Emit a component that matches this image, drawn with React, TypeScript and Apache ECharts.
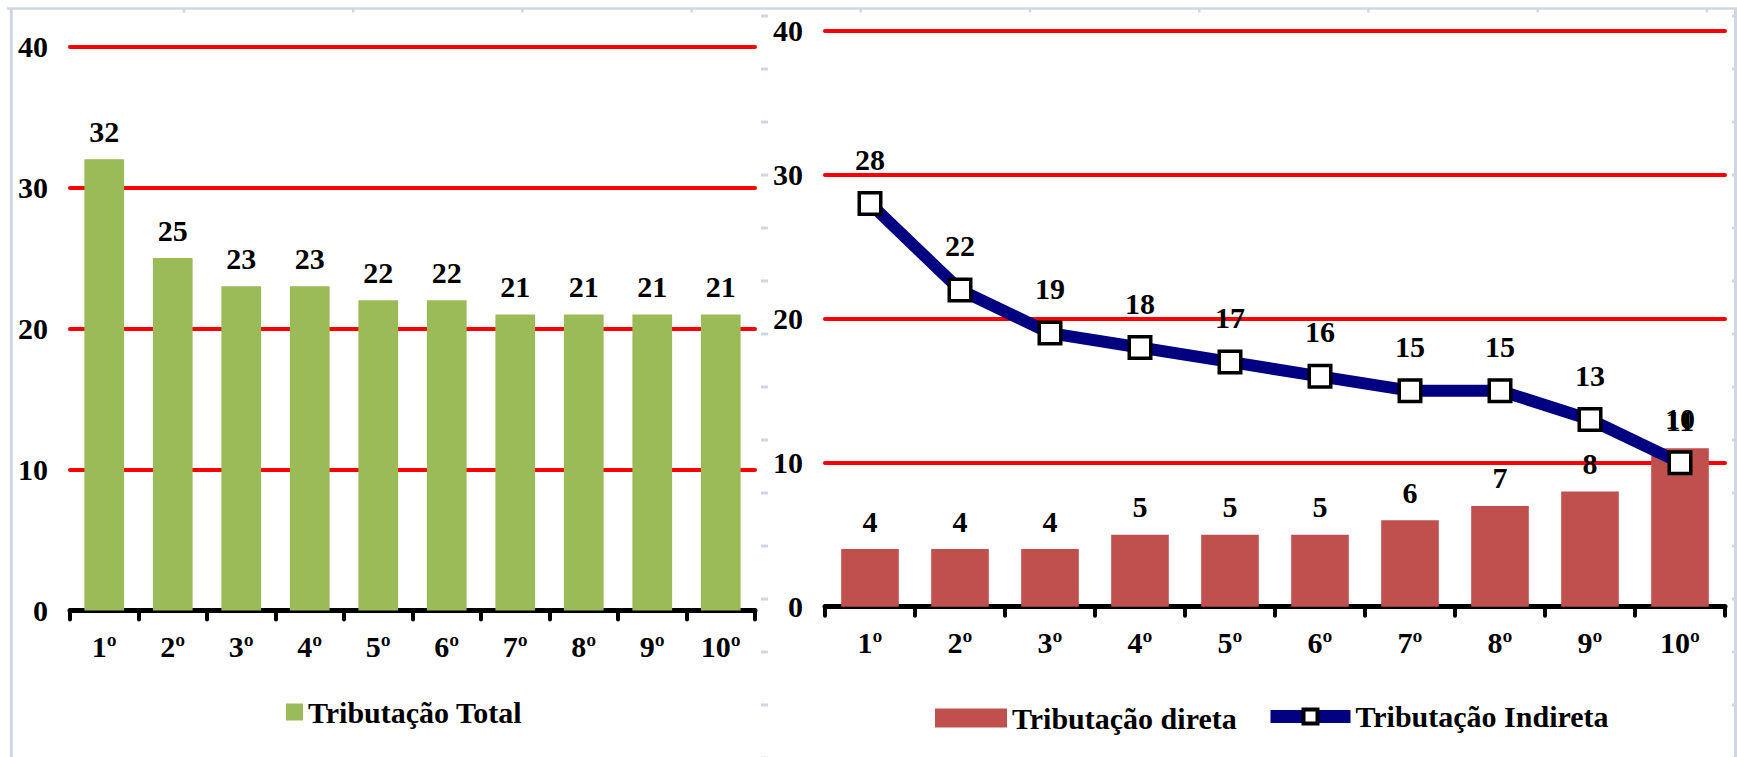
import { useEffect, useRef } from 'react';
import * as echarts from 'echarts';

// Deciles shown on both charts
const categories = ['1º', '2º', '3º', '4º', '5º', '6º', '7º', '8º', '9º', '10º'];

// Tax burden by decile (% of income)
const totalTax = [32, 25, 23, 23, 22, 22, 21, 21, 21, 21];
const directTax = [4, 4, 4, 5, 5, 5, 6, 7, 8, 11];
const indirectTax = [28, 22, 19, 18, 17, 16, 15, 15, 13, 10];

// Value axis range shared by both charts
const yMin = 0;
const yMax = 40;
const yStep = 10;

const TOTAL_NAME = 'Tributação Total';
const DIRECT_NAME = 'Tributação direta';
const INDIRECT_NAME = 'Tributação Indireta';

const FONT = "'Liberation Serif', 'Times New Roman', serif";
const SHEET_LINE = '#cfd7e5';

const textBase = {
  fontFamily: FONT,
  fontSize: 30,
  fontWeight: 'bold' as const,
  color: '#000',
};

function categoryAxis(gridIndex: number) {
  return {
    type: 'category' as const,
    gridIndex,
    data: categories,
    axisLine: { show: true, lineStyle: { color: '#000', width: 5, cap: 'round' } },
    axisTick: { show: true, length: 9, lineStyle: { color: '#000', width: 4, cap: 'round' } },
    axisLabel: { ...textBase, margin: 21, interval: 0 },
  };
}

function valueAxis(gridIndex: number) {
  return {
    type: 'value' as const,
    gridIndex,
    min: yMin,
    max: yMax,
    interval: yStep,
    axisLine: { show: false },
    axisTick: { show: false },
    axisLabel: { ...textBase, margin: 22 },
    splitLine: {
      show: true,
      showMinLine: false,
      lineStyle: { color: '#ff0000', width: 4, cap: 'round' },
    },
  };
}

// Worksheet cell lines that show around and between the two charts
function sheetLines() {
  const items: any[] = [];
  items.push({ type: 'line', shape: { x1: 7, y1: 8.5, x2: 1737, y2: 8.5 }, style: { stroke: SHEET_LINE, lineWidth: 2.5 } });
  items.push({ type: 'line', shape: { x1: 11.3, y1: 8, x2: 11.3, y2: 757 }, style: { stroke: SHEET_LINE, lineWidth: 3 } });
  items.push({ type: 'line', shape: { x1: 1735.5, y1: 8, x2: 1735.5, y2: 757 }, style: { stroke: SHEET_LINE, lineWidth: 3 } });
  for (let k = 0; k < 10; k++) {
    const x = 184 + 169.2 * k;
    items.push({ type: 'line', shape: { x1: x, y1: 8, x2: x, y2: 12.5 }, style: { stroke: SHEET_LINE, lineWidth: 2.5 } });
  }
  for (let k = 0; k < 15; k++) {
    const y = 16 + 53 * k;
    items.push({ type: 'line', shape: { x1: 761, y1: y, x2: 768, y2: y }, style: { stroke: SHEET_LINE, lineWidth: 3 } });
    items.push({ type: 'line', shape: { x1: 1732, y1: y, x2: 1736, y2: y }, style: { stroke: SHEET_LINE, lineWidth: 3 } });
  }
  return items;
}

export default function App() {
  const ref = useRef<HTMLDivElement>(null);

  useEffect(() => {
    if (!ref.current) return;
    const chart = echarts.init(ref.current, null, { renderer: 'svg' });

    const barLabel = { show: true, position: 'top' as const, distance: 13, ...textBase };

    chart.setOption({
      animation: false,
      backgroundColor: '#fff',
      textStyle: { fontFamily: FONT },
      graphic: { elements: sheetLines() },
      grid: [
        { left: 70, top: 46.5, width: 685, height: 564 },
        { left: 825, top: 30.7, width: 900, height: 576 },
      ],
      xAxis: [categoryAxis(0), categoryAxis(1)],
      yAxis: [valueAxis(0), valueAxis(1)],
      legend: [
        {
          data: [TOTAL_NAME],
          left: 286,
          top: 697,
          padding: 0,
          icon: 'rect',
          itemWidth: 17,
          itemHeight: 17,
          selectedMode: false,
          textStyle: { ...textBase },
        },
        {
          data: [DIRECT_NAME],
          left: 935,
          top: 703,
          padding: 0,
          icon: 'rect',
          itemWidth: 72,
          itemHeight: 19,
          selectedMode: false,
          textStyle: { ...textBase },
        },
        {
          data: [
            {
              name: INDIRECT_NAME,
              itemStyle: { color: '#fff', borderColor: '#000', borderWidth: 4 },
              lineStyle: { color: '#000080', width: 13 },
            },
          ],
          left: 1264,
          top: 701.5,
          padding: 0,
          itemWidth: 80,
          itemHeight: 17.5,
          selectedMode: false,
          textStyle: { ...textBase },
        },
      ],
      series: [
        {
          name: TOTAL_NAME,
          type: 'bar',
          xAxisIndex: 0,
          yAxisIndex: 0,
          data: totalTax,
          barWidth: '58%',
          itemStyle: { color: '#9bbb59' },
          label: barLabel,
        },
        {
          name: DIRECT_NAME,
          type: 'bar',
          xAxisIndex: 1,
          yAxisIndex: 1,
          data: directTax,
          barWidth: '64%',
          itemStyle: { color: '#c0504d' },
          label: barLabel,
        },
        {
          name: INDIRECT_NAME,
          type: 'line',
          xAxisIndex: 1,
          yAxisIndex: 1,
          data: indirectTax,
          symbol: 'rect',
          symbolSize: 21.5,
          showAllSymbol: true,
          lineStyle: { color: '#000080', width: 12 },
          itemStyle: { color: '#fff', borderColor: '#000', borderWidth: 3.5 },
          label: { show: true, position: 'top', distance: 17, ...textBase },
        },
      ],
    });

    return () => chart.dispose();
  }, []);

  return (
    <div
      ref={ref}
      style={{ position: 'fixed', left: 0, top: 0, width: 1737, height: 757, background: '#fff' }}
    />
  );
}
